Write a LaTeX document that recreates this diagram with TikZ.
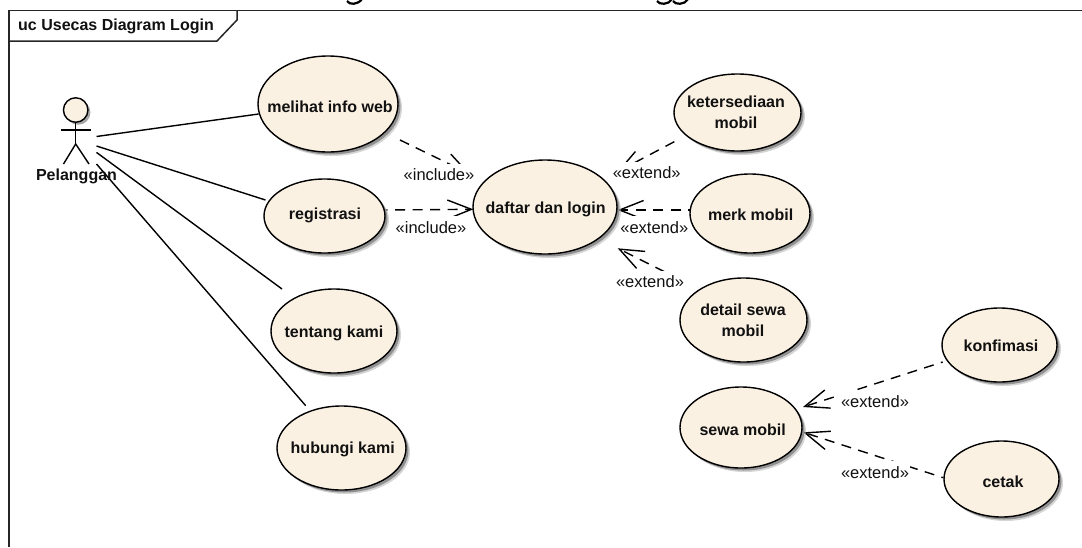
\documentclass[tikz,border=0pt]{standalone}
\usepackage{fontspec}
\setmainfont{Liberation Sans}
\usetikzlibrary{shapes.geometric,arrows.meta,shadows}
\pgfdeclarelayer{conn}
\pgfsetlayers{conn,main}
\definecolor{ucfill}{HTML}{FBF1E3}
\definecolor{inktext}{HTML}{111111}
\tikzset{
  x=1pt,y=-1pt,
  usecase/.style={ellipse,draw=black,line width=1.4pt,fill=ucfill,inner sep=0pt,
    drop shadow={shadow xshift=4pt,shadow yshift=-4pt,fill=black!30,opacity=.55},
    drop shadow={shadow xshift=2.5pt,shadow yshift=-2.5pt,fill=black!50,opacity=.8}},
  uctext/.style={inner sep=0pt,font=\fontsize{16}{20}\selectfont\bfseries,text=inktext,align=center},
  assoc/.style={line width=1.4pt,draw=black},
  dep/.style={line width=1.4pt,draw=black,dash pattern=on 10pt off 7.5pt,
    -{Straight Barb[length=24pt,width=19pt]}},
  depphase/.style={dep,dash phase=8pt},
  stereo/.style={fill=white,inner sep=0pt,minimum width=70pt,minimum height=23pt,
    font=\fontsize{16.5}{18}\selectfont,text=inktext},
  frameline/.style={line width=1.5pt,draw=black!85},
  actorline/.style={line width=1.4pt,draw=black},
  descender/.style={line width=2.2pt,draw=black}
}
\begin{document}
\begin{tikzpicture}
\useasboundingbox (0,0) rectangle (1082,547);
\clip (0,0) rectangle (1082,547);
% frame
\draw[frameline] (9,547) -- (9,10.5) -- (1082,10.5);
\draw[frameline] (237,10.5) -- (237,20) -- (217,41) -- (9,41);
\node[uctext,anchor=west] (frametitle) at (18,26.5) {uc Usecas Diagram Login};
% clipped title descenders
\draw[descender] (347,1) .. controls (349,5) and (358,5) .. (362,-1);
\draw[descender] (657,1) .. controls (659,5) and (669,5) .. (672,-1);
\draw[descender] (673,1) .. controls (675,5) and (685,5) .. (688,-1);
% use cases
\node[usecase,minimum width=140pt,minimum height=96pt] (mel) at (328,104) {};
\node[uctext] (melt) at (330,107) {melihat info web};
\node[usecase,minimum width=121pt,minimum height=74pt] (reg) at (324.5,216) {};
\node[uctext] (regt) at (325,215.5) {registrasi};
\node[usecase,minimum width=126pt,minimum height=84pt] (ten) at (334,331) {};
\node[uctext] (tent) at (334,333.5) {tentang kami};
\node[usecase,minimum width=129pt,minimum height=84pt] (hub) at (341.5,448) {};
\node[uctext] (hubt) at (342.7,449.5) {hubungi kami};
\node[usecase,minimum width=144pt,minimum height=94pt] (daf) at (545,207) {};
\node[uctext] (daft) at (545.7,209) {daftar dan login};
\node[usecase,minimum width=127pt,minimum height=77pt] (ket) at (737.5,112.5) {};
\node[uctext] (kett) at (736,112) {ketersediaan\\[1pt]mobil};
\node[usecase,minimum width=120pt,minimum height=79pt] (mrk) at (750,213.5) {};
\node[uctext] (mrkt) at (750.7,215) {merk mobil};
\node[usecase,minimum width=127pt,minimum height=84pt] (det) at (743.5,320) {};
\node[uctext] (dett) at (743,320.5) {detail sewa\\[1pt]mobil};
\node[usecase,minimum width=122pt,minimum height=81pt] (sew) at (741,427.5) {};
\node[uctext] (sewt) at (742.7,430) {sewa mobil};
\node[usecase,minimum width=115pt,minimum height=74pt] (kon) at (999.5,345) {};
\node[uctext] (kont) at (1001,345.5) {konfimasi};
\node[usecase,minimum width=115pt,minimum height=76pt] (cet) at (1001.5,479) {};
\node[uctext] (cett) at (1003,481.5) {cetak};
% actor
\node[circle,draw=black,line width=1.4pt,fill=ucfill,minimum size=24.5pt,inner sep=0pt,
  drop shadow={shadow xshift=2.5pt,shadow yshift=-2.5pt,fill=black!50,opacity=.7}] (head) at (75.7,110) {};
\coordinate (crotch) at (75.7,144);
\coordinate (armL) at (61,130);
\coordinate (armR) at (91,130);
\coordinate (footL) at (63.5,164);
\coordinate (footR) at (89,164);
\draw[actorline] (head.south) -- (crotch);
\draw[actorline] (armL) -- (armR);
\draw[actorline] (footL) -- (crotch) -- (footR);
\node[uctext] (actorlabel) at (76.5,176) {Pelanggan};
% association ends
\coordinate (a1) at (96.5,136.5);
\coordinate (a2) at (96.5,146);
\coordinate (a3) at (96.5,152.4);
\coordinate (a4) at (96.5,164);
\coordinate (e1) at (258.6,114);
\coordinate (e2) at (265.5,200);
\coordinate (e3) at (282,289);
\coordinate (e4) at (305.7,405.7);
\begin{pgfonlayer}{conn}
\draw[assoc] (a1) -- (e1);
\draw[assoc] (a2) -- (e2);
\draw[assoc] (a3) -- (e3);
\draw[assoc] (a4) -- (e4);
% dependency ends
\coordinate (s1) at (400,140);   \coordinate (t1) at (470,174);
\coordinate (s2) at (385.7,210); \coordinate (t2) at (473.3,209.3);
\coordinate (s3) at (674.3,141.7); \coordinate (t3) at (617,172);
\coordinate (s4) at (690,210);   \coordinate (t4) at (617.7,210);
\coordinate (s5) at (680,279.5); \coordinate (t5) at (617.7,248.3);
\coordinate (s6) at (942.7,362); \coordinate (t6) at (803,407);
\coordinate (s7) at (943.3,477.7); \coordinate (t7) at (803.3,432.3);
\draw[dep] (s1) -- (t1);
\draw[depphase] (s2) -- (t2);
\draw[dep] (s3) -- (t3);
\draw[depphase] (s4) -- (t4);
\draw[dep] (s5) -- (t5);
\draw[depphase] (s6) -- (t6);
\draw[depphase] (s7) -- (t7);
\node[stereo,minimum width=77pt] (l1) at (439,175) {«include»};
\node[stereo,minimum height=24pt] (l2) at (431,228) {«include»};
\node[stereo] (l3) at (646.7,173) {«extend»};
\node[stereo,minimum height=24pt] (l4) at (654.3,227.5) {«extend»};
\node[stereo] (l5) at (650,282) {«extend»};
\node[stereo,minimum height=24pt] (l6) at (875,402) {«extend»};
\node[stereo] (l7) at (875,472.5) {«extend»};
\end{pgfonlayer}
\end{tikzpicture}
\end{document}
